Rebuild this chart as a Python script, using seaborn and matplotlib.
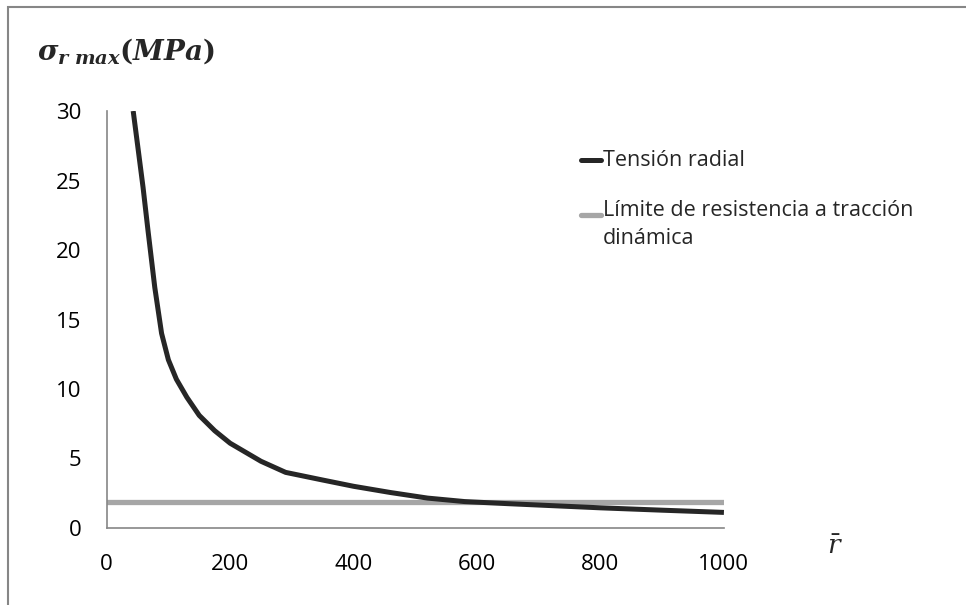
import matplotlib
matplotlib.use("Agg")
import matplotlib.pyplot as plt
from matplotlib.lines import Line2D
from matplotlib.patches import Rectangle
import seaborn as sns
import pandas as pd

# values
r_bar = [43, 50, 59, 67, 78, 89, 100, 113, 130, 150, 175, 200, 250, 290, 350,
         400, 460, 520, 580, 650, 700, 800, 900, 1000]
sigma_radial = [30, 27.6, 24.5, 21.4, 17.3, 14.0, 12.1, 10.7, 9.4, 8.1, 7.0,
                6.1, 4.8, 4.0, 3.45, 3.0, 2.55, 2.15, 1.9, 1.75, 1.65, 1.45,
                1.28, 1.12]
limit_x = [0, 1000]
limit_y = [1.9, 1.9]

label_radial = "Tensión radial"
label_limit = "Límite de resistencia a tracción\ndinámica"

df_radial = pd.DataFrame({"r": r_bar, "sigma": sigma_radial})
df_limit = pd.DataFrame({"r": limit_x, "sigma": limit_y})

sns.set_theme(style="white")
plt.rcParams["font.family"] = ["Open Sans", "DejaVu Sans"]
plt.rcParams["mathtext.fontset"] = "dejavuserif"

fig = plt.figure(figsize=(9.66, 6.05), dpi=100)
ax = fig.add_axes([0.1104, 0.1273, 0.639, 0.6892])

dark = "#262626"
grey = "#a6a6a6"
axis_col = "#868686"

sns.lineplot(data=df_limit, x="r", y="sigma", ax=ax, color=grey, lw=3.8,
             solid_capstyle="round")
sns.lineplot(data=df_radial, x="r", y="sigma", ax=ax, color=dark, lw=3.6,
             solid_capstyle="butt", solid_joinstyle="round")

ax.set_xlim(0, 1000)
ax.set_ylim(0, 30)
ax.set_xticks([0, 200, 400, 600, 800, 1000])
ax.set_yticks([0, 5, 10, 15, 20, 25, 30])
ax.tick_params(axis="both", length=0, labelsize=16, colors="black")
ax.tick_params(axis="y", pad=18)
ax.tick_params(axis="x", pad=19)
ax.set_xlabel("")
ax.set_ylabel("")
for side in ["top", "right"]:
    ax.spines[side].set_visible(False)
for side in ["left", "bottom"]:
    ax.spines[side].set_color(axis_col)
    ax.spines[side].set_linewidth(1.2)

# axis titles as in the original (equation-style)
fig.text(37 / 966, 1 - 52 / 605,
         r"$\boldsymbol{\sigma}_{\boldsymbol{r\ max}}\mathbf{(}\boldsymbol{MPa}\mathbf{)}$",
         fontsize=20, va="center", ha="left")
fig.text(835 / 966, 1 - 548 / 605, r"$\bar{r}$", fontsize=19,
         va="center", ha="center")

# legend on the right, drawn like the spreadsheet one
fig.add_artist(Line2D([581 / 966, 601 / 966], [1 - 160 / 605, 1 - 160 / 605],
                      color=dark, lw=3.6, transform=fig.transFigure))
fig.text(603 / 966, 1 - 160 / 605, label_radial, fontsize=15.5,
         va="center", ha="left")
fig.add_artist(Line2D([581 / 966, 601 / 966], [1 - 215 / 605, 1 - 215 / 605],
                      color=grey, lw=3.8, solid_capstyle="round",
                      transform=fig.transFigure))
fig.text(603 / 966, 1 - 200 / 605, label_limit, fontsize=15.5,
         va="top", ha="left", linespacing=1.45)

# chart area border (only left and top visible in the crop)
fig.add_artist(Rectangle((8 / 966, -0.1), 1.2, 1 - 7 / 605 + 0.1,
                         transform=fig.transFigure, fill=False,
                         edgecolor=axis_col, lw=1.5))

fig.savefig("out.png", dpi=100)
